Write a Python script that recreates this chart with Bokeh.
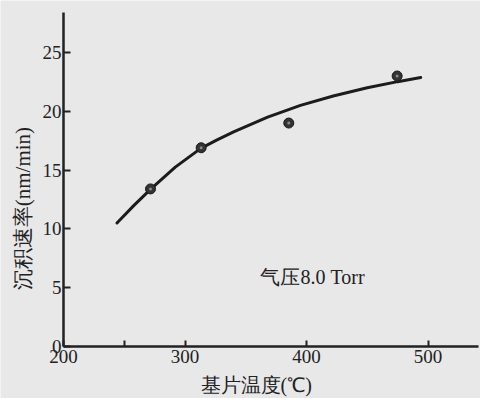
import math
from bokeh.plotting import figure
from bokeh.models import Range1d, FixedTicker
from bokeh.core.properties import value
from bokeh.embed import file_html
from bokeh.resources import INLINE

# measured points
temp_points = [271.6, 313.3, 385.4, 474.6]
rate_points = [13.4, 16.9, 19.0, 23.0]
# hand-drawn fitted curve
curve_temp = [244, 258, 272, 292, 313, 326, 340, 368, 395, 422, 450, 475, 494]
curve_rate = [10.5, 12.0, 13.4, 15.25, 16.85, 17.55, 18.25, 19.5, 20.5, 21.3, 22.0, 22.52, 22.88]
x_ticks = [200, 300, 400, 500]
x_minor_ticks = [250]
y_ticks = [0, 5, 10, 15, 20, 25]
annotation_text = "气压8.0 Torr"
x_title = "基片温度(℃)"
y_title = "沉积速率(nm/min)"

INK = "#222222"
PAPER = "#e8e8e8"
SERIF = "Liberation Serif"

p = figure(width=480, height=398,
           x_range=Range1d(148.15, 543.2), y_range=Range1d(-4.42, 29.42),
           output_backend="svg", toolbar_location=None, min_border=0)

p.background_fill_color = PAPER
p.border_fill_color = PAPER
p.outline_line_color = None
p.xgrid.grid_line_color = None
p.ygrid.grid_line_color = None

for ax in (p.xaxis[0], p.yaxis[0]):
    ax.axis_line_color = INK
    ax.axis_line_width = 2.5
    ax.major_tick_line_color = INK
    ax.major_tick_line_width = 2
    ax.minor_tick_line_color = INK
    ax.minor_tick_line_width = 2
    ax.major_tick_out = 0
    ax.minor_tick_out = 0
    ax.major_label_text_font = SERIF
    ax.major_label_text_font_size = "19px"
    ax.major_label_text_color = INK

p.xaxis.fixed_location = 0
p.xaxis.bounds = (200, 541.6)
p.xaxis.ticker = FixedTicker(ticks=x_ticks, minor_ticks=x_minor_ticks)
p.xaxis.major_tick_in = 6
p.xaxis.minor_tick_in = 6
p.xaxis.major_label_standoff = 3

p.yaxis.fixed_location = 200
p.yaxis.bounds = (0, 28.4)
p.yaxis.ticker = FixedTicker(ticks=y_ticks, minor_ticks=[])
p.yaxis.major_tick_in = 7
p.yaxis.minor_tick_in = 0
p.yaxis.major_label_standoff = 2

p.line(curve_temp, curve_rate, line_width=3, line_color="#1c1c1c", line_cap="round")
p.scatter(temp_points, rate_points, size=10, fill_color="#333333", line_color="#1a1a1a", line_width=1)
p.scatter(temp_points, rate_points, size=3, fill_color="#8a8a8a", line_color=None)

p.text(x=[362.1], y=[5.87], text=[annotation_text], text_font=value(SERIF),
       text_font_size="20px", text_baseline="middle", text_align="left", text_color=INK)
p.text(x=[312.8], y=[-4.2], text=[x_title], text_font=value(SERIF),
       text_font_size="20px", text_baseline="bottom", text_align="left", text_color=INK)
p.text(x=[166.7], y=[11.73], text=[y_title], text_font=value(SERIF),
       text_font_size="21px", text_baseline="middle", text_align="center",
       angle=math.pi / 2, text_color=INK)

open("out.html", "w").write(file_html(p, INLINE))
